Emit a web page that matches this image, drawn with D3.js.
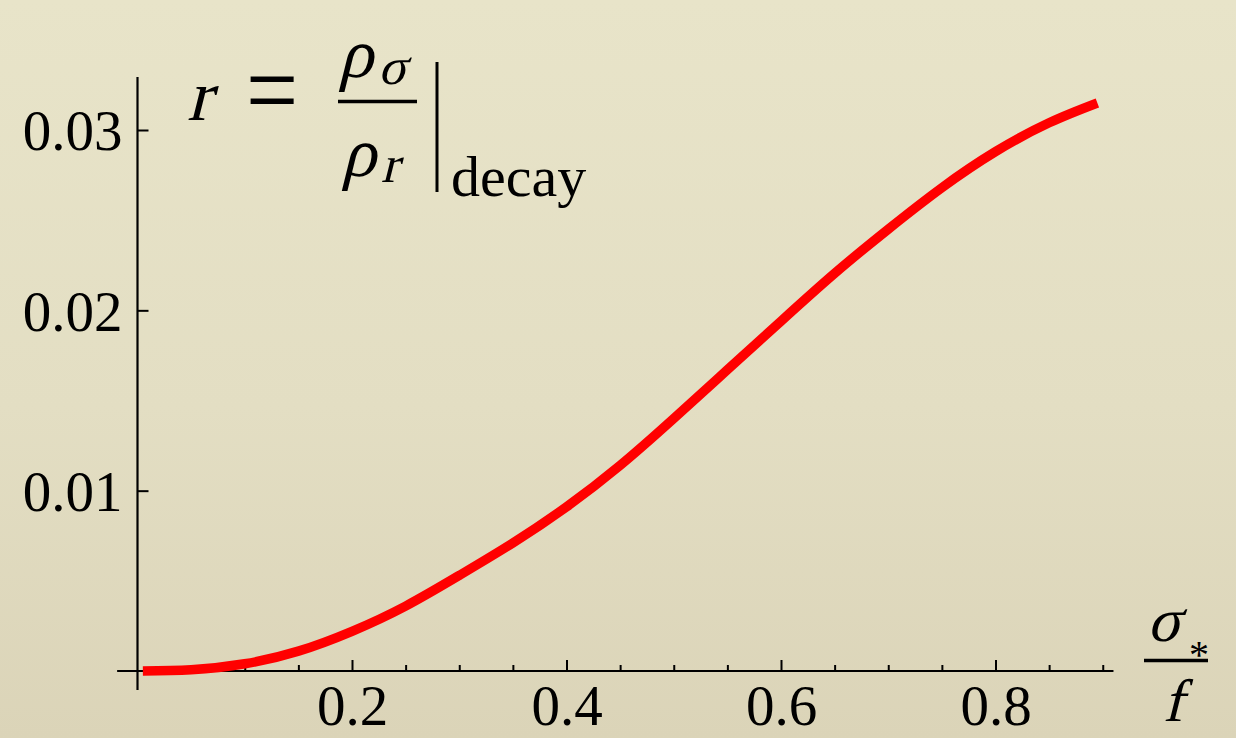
<!DOCTYPE html>
<html><head><meta charset="utf-8">
<script src="https://cdn.jsdelivr.net/npm/d3@7"></script>
<style>html,body{margin:0;padding:0;overflow:hidden;background:#e3dec3} svg{display:block}</style>
</head><body>
<svg id="c" width="1236" height="738"></svg>
<script>
// ---- data ----
const sigmaOverF = [0.005, 0.05, 0.1, 0.15, 0.2, 0.25, 0.3, 0.35, 0.4, 0.45, 0.5, 0.55, 0.6, 0.65, 0.7, 0.75, 0.8, 0.85, 0.895];
const rValues    = [0.0000, 0.00007, 0.0004, 0.0011, 0.0022, 0.0036, 0.0053, 0.0071, 0.0091, 0.0114, 0.0140, 0.0167, 0.0194, 0.02205, 0.0245, 0.0268, 0.0288, 0.0304, 0.0315];
const xMajorTicks = [0.2, 0.4, 0.6, 0.8];
const xTickLabels = ["0.2", "0.4", "0.6", "0.8"];
const xMinorTicks = [0.05, 0.1, 0.15, 0.25, 0.3, 0.35, 0.45, 0.5, 0.55, 0.65, 0.7, 0.75, 0.85, 0.9];
const yTicks = [0.01, 0.02, 0.03];
const yTickLabels = ["0.01", "0.02", "0.03"];

const W = 1236, H = 738;
const svg = d3.select("#c");

// background
const defs = svg.append("defs");
const g0 = defs.append("linearGradient").attr("id", "bg").attr("x1", 0).attr("y1", 0).attr("x2", 0).attr("y2", 1);
g0.append("stop").attr("offset", "0%").attr("stop-color", "#e8e4c9");
g0.append("stop").attr("offset", "55%").attr("stop-color", "#e3dec3");
g0.append("stop").attr("offset", "100%").attr("stop-color", "#dbd4b8");
svg.append("rect").attr("width", W).attr("height", H).attr("fill", "url(#bg)");

// scales
const x = d3.scaleLinear().domain([0, 0.8]).range([137.5, 995.5]);
const y = d3.scaleLinear().domain([0, 0.03]).range([671, 130]);

const serif = "'Liberation Serif', 'Times New Roman', serif";

// axis lines
svg.append("line").attr("x1", x(-0.019)).attr("x2", x(0.91)).attr("y1", y(0)).attr("y2", y(0))
  .attr("stroke", "#000").attr("stroke-width", 2.2);
svg.append("line").attr("x1", x(0)).attr("x2", x(0)).attr("y1", y(-0.00105)).attr("y2", y(0.03294))
  .attr("stroke", "#000").attr("stroke-width", 2.2);

// x axis: minor ticks
const gxMinor = svg.append("g").attr("transform", `translate(0,${y(0)})`)
  .call(d3.axisBottom(x).tickValues(xMinorTicks).tickSize(-6).tickFormat(""));
// x axis: major ticks + labels
const gx = svg.append("g").attr("transform", `translate(0,${y(0)})`)
  .call(d3.axisBottom(x).tickValues(xMajorTicks).tickSize(-11).tickPadding(14)
    .tickFormat((d, i) => xTickLabels[i]));
// y axis
const gy = svg.append("g").attr("transform", `translate(${x(0)},0)`)
  .call(d3.axisLeft(y).tickValues(yTicks).tickSize(-11).tickPadding(15)
    .tickFormat((d, i) => yTickLabels[i]));

[gxMinor, gx, gy].forEach(g => {
  g.select(".domain").remove();
  g.selectAll(".tick line").attr("stroke", "#000").attr("stroke-width", 2);
  g.selectAll("text").attr("fill", "#000").style("font-family", serif).style("font-size", "57px");
});
gy.selectAll("text").attr("dy", "0.35em");

// curve
const pts = sigmaOverF.map((v, i) => [v, rValues[i]]);
svg.append("path").datum(pts)
  .attr("fill", "none").attr("stroke", "#ff0000").attr("stroke-width", 9.5)
  .attr("stroke-linecap", "butt").attr("stroke-linejoin", "round")
  .attr("d", d3.line().x(d => x(d[0])).y(d => y(d[1])).curve(d3.curveNatural));

// text helpers: upright, and slanted (synthetic math italic on the serif face)
const T = (txt, px, py, size) => svg.append("text").text(txt)
  .attr("x", px).attr("y", py).attr("fill", "#000")
  .style("font-family", serif).style("font-size", size + "px");
const I = (txt, px, py, size) => svg.append("text").text(txt)
  .attr("transform", `translate(${px},${py}) skewX(-14)`).attr("fill", "#000")
  .style("font-family", serif).style("font-size", size + "px");

// formula  r = rho_sigma / rho_r |_decay
I("r", 187, 120, 72);
T("=", 246, 127, 74).attr("transform", "translate(246,127) scale(1.25,1.5) translate(-246,-127)");
I("ρ", 338, 77, 70);
I("σ", 378, 84, 52);
svg.append("line").attr("x1", 338).attr("x2", 417).attr("y1", 101.5).attr("y2", 101.5)
  .attr("stroke", "#000").attr("stroke-width", 3.5);
I("ρ", 341, 176, 70);
I("r", 381, 182, 52);
svg.append("line").attr("x1", 437).attr("x2", 437).attr("y1", 62).attr("y2", 192)
  .attr("stroke", "#000").attr("stroke-width", 3);
T("decay", 451, 196, 58);

// axis label  sigma_* / f
I("σ", 1147, 641, 62);
T("*", 1189, 668, 40);
svg.append("line").attr("x1", 1144).attr("x2", 1208).attr("y1", 660.5).attr("y2", 660.5)
  .attr("stroke", "#000").attr("stroke-width", 3.5);
I("f", 1163, 721, 60);
</script>
</body></html>
